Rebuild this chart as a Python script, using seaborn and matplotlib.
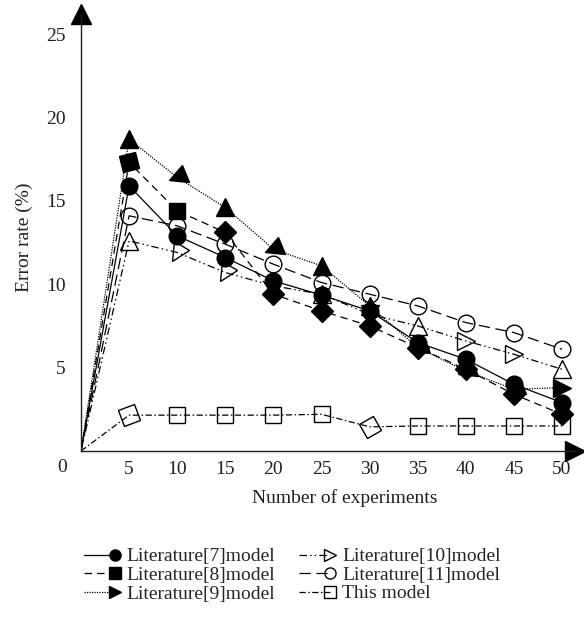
import numpy as np
import pandas as pd
import matplotlib
matplotlib.use("Agg")
import matplotlib.pyplot as plt
import seaborn as sns
from matplotlib.markers import MarkerStyle
from matplotlib.transforms import Affine2D
from matplotlib.lines import Line2D
from matplotlib.legend_handler import HandlerLine2D

# ---------------- data ----------------
x_vals = [0, 5, 10, 15, 20, 25, 30, 35, 40, 45, 50]
lit7 = [0, 15.9, 12.9, 11.6, 10.2, 9.35, 8.4, 6.5, 5.5, 4.0, 2.9]
lit8 = [0, 17.3, 14.4, 13.1, 9.4, 8.4, 7.5, 6.2, 4.9, 3.4, 2.2]
lit9 = [0, 18.7, 16.4, 14.6, 12.1, 11.1, 8.7, 6.2, 4.8, 3.7, 3.8]
lit10 = [0, 12.6, 11.9, 10.7, 9.9, 9.4, 8.2, 7.5, 6.6, 5.8, 4.9]
lit11 = [0, 14.1, 13.5, 12.4, 11.2, 10.1, 9.4, 8.7, 7.7, 7.1, 6.1]
this_model = [0, 2.15, 2.15, 2.15, 2.15, 2.2, 1.45, 1.5, 1.5, 1.5, 1.5]

series_names = ["Literature[7]model", "Literature[8]model", "Literature[9]model",
                "Literature[10]model", "Literature[11]model", "This model"]
series_values = [lit7, lit8, lit9, lit10, lit11, this_model]
x_ticks = [5, 10, 15, 20, 25, 30, 35, 40, 45, 50]
y_ticks = [5, 10, 15, 20, 25]

# ---------------- styles ----------------
dash_map = {
    "Literature[7]model": "",
    "Literature[8]model": (6, 4),
    "Literature[9]model": (1, 1),
    "Literature[10]model": (6, 2.5, 1.2, 2.5, 1.2, 2.5),
    "Literature[11]model": (9, 4.5),
    "This model": (5, 2, 1.2, 2),
}
marker_base = {
    "Literature[7]model": ("o", True, 12),
    "Literature[8]model": ("s", True, 11.5),
    "Literature[9]model": (">", True, 13),
    "Literature[10]model": (">", False, 13),
    "Literature[11]model": ("o", False, 12),
    "This model": ("s", False, 12),
}
marker_rot = {
    "Literature[7]model": [0] * 10,
    "Literature[8]model": [15, 0, 45, 45, 45, 45, 45, 45, 45, 45],
    "Literature[9]model": [90, 200, 90, 200, 90, 90, 200, 200, 200, 0],
    "Literature[10]model": [90, 240, 240, 90, 90, 270, 90, 0, 0, 90],
    "Literature[11]model": [0] * 10,
    "This model": [20, 0, 0, 0, 0, 30, 0, 0, 0, 0],
}

df = pd.DataFrame({
    "x": np.tile(x_vals, len(series_names)),
    "y": np.concatenate(series_values),
    "series": np.repeat(series_names, len(x_vals)),
})

sns.set_style("white")
plt.rcParams["font.family"] = ["Liberation Serif", "DejaVu Serif"]
plt.rcParams["font.size"] = 14
ink = "#231f20"

fig = plt.figure(figsize=(5.84, 6.18), dpi=100)
W, H = 584, 618
x0_px, y0_px = 81, 451
x_scale = 9.62
y_scale = 16.68
xmax, ymax = 51.4, 26.17
ax = fig.add_axes([x0_px / W, (H - y0_px) / H, xmax * x_scale / W, ymax * y_scale / H])

sns.lineplot(data=df, x="x", y="y", hue="series", style="series",
             palette={n: "black" for n in series_names}, dashes=dash_map,
             markers=False, linewidth=0.9, legend=False, ax=ax, sort=False,
             estimator=None)

for name, vals in zip(series_names, series_values):
    m, filled, ms = marker_base[name]
    for i in range(1, len(x_vals)):
        ms_obj = MarkerStyle(m, transform=Affine2D().rotate_deg(marker_rot[name][i - 1]))
        ax.plot([x_vals[i]], [vals[i]], linestyle="none", marker=ms_obj, ms=ms,
                mfc="black" if filled else "none", mec="black", mew=1.0, zorder=4)

ax.set_xlim(0, xmax)
ax.set_ylim(0, ymax)
ax.set_xticks(x_ticks)
ax.set_yticks(y_ticks)
ax.tick_params(axis="both", direction="in", length=5, width=0.9, colors=ink, labelsize=14)
ax.tick_params(axis="y", pad=11)
ax.tick_params(axis="x", pad=7)
for s in ["top", "right"]:
    ax.spines[s].set_visible(False)
for s in ["left", "bottom"]:
    ax.spines[s].set_color(ink)
    ax.spines[s].set_linewidth(1.0)

# axis arrows
ax.plot([0], [1], marker="^", ms=15, color="black", transform=ax.transAxes, clip_on=False)
ax.plot([1], [0], marker=">", ms=14, color="black", transform=ax.transAxes, clip_on=False)

ax.set_xlabel("Number of experiments", fontsize=14, color=ink)
ax.set_ylabel("Error rate (%)", fontsize=14, color=ink)
ax.xaxis.set_label_coords((345 - x0_px) / (xmax * x_scale), -(489 - y0_px) / (ymax * y_scale))
ax.yaxis.set_label_coords((33 - x0_px) / (xmax * x_scale), (y0_px - 237) / (ymax * y_scale))
fig.text(62 / W, 1 - 467 / H, "0", ha="center", va="center", fontsize=14, color=ink)


class EndMarkerHandler(HandlerLine2D):
    def create_artists(self, legend, orig_handle, xdescent, ydescent, width, height,
                       fontsize, trans):
        y = height / 2 - ydescent
        line = Line2D([-xdescent, -xdescent + width], [y, y])
        self.update_prop(line, orig_handle, legend)
        line.set_marker("")
        mk = Line2D([-xdescent + width], [y])
        self.update_prop(mk, orig_handle, legend)
        mk.set_linestyle("none")
        line.set_transform(trans)
        mk.set_transform(trans)
        return [line, mk]


handles = []
for name in series_names:
    m, filled, ms = marker_base[name]
    d = dash_map[name]
    h = Line2D([], [], color="black", lw=0.9, marker=m, ms=8,
               mfc="black" if filled else "none", mec="black", mew=1.0)
    if d:
        h.set_dashes(d)
    handles.append(h)

fig.legend(handles, series_names, ncol=2,
           loc="upper left", bbox_to_anchor=(74 / W, 1 - 538 / H), frameon=False,
           borderpad=0, handlelength=1.6, handletextpad=0.62, columnspacing=1.2,
           labelspacing=0.05, fontsize=14, handler_map={Line2D: EndMarkerHandler()})

fig.savefig("out.png", dpi=100, facecolor="white")
